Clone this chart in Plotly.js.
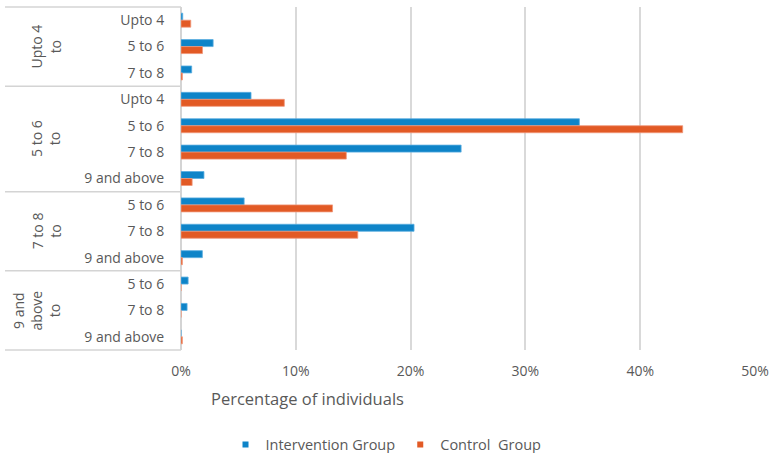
<!DOCTYPE html>
<html>
<head>
<meta charset="utf-8">
<script src="https://cdn.plot.ly/plotly-3.0.1.min.js"></script>
<style>html,body{margin:0;padding:0;background:#fff;}#chart{width:773px;height:453px;}</style>
</head>
<body>
<div id="chart"></div>
<script>
// Data
const groups = ["Upto 4<br>to", "5 to 6<br>to", "7 to 8<br>to", "9 and<br>above<br>to"];
const groupOf = [0,0,0, 1,1,1,1, 2,2,2, 3,3,3];
const inner = ["Upto 4","5 to 6","7 to 8",
               "Upto 4","5 to 6","7 to 8","9 and above",
               "5 to 6","7 to 8","9 and above",
               "5 to 6","7 to 8","9 and above"];
const intervention = [0.15, 2.8, 0.93, 6.1, 34.7, 24.4, 2.0, 5.5, 20.3, 1.86, 0.62, 0.53, 0];
const control      = [0.85, 1.87, 0.12, 9.0, 43.7, 14.4, 0.97, 13.2, 15.4, 0.12, 0, 0, 0.12];
const seriesNames = ["Intervention Group", "Control  Group"];
const xTickVals = [0, 10, 20, 30, 40, 50];
const xTickText = ["0%", "10%", "20%", "30%", "40%", "50%"];

const ids = inner.map((s, i) => "g" + groupOf[i] + "|" + s);
const textColor = "#595959";
const font = "Open Sans, Lato, sans-serif";
const colors = ["#0E84C8", "#E25A25"];

const traces = [
  {type: "bar", orientation: "h", name: seriesNames[0], x: intervention, y: ids, showlegend: false,
   marker: {color: colors[0], line: {color: "#5AADE0", width: 0.8}}, hoverinfo: "x"},
  {type: "bar", orientation: "h", name: seriesNames[1], x: control, y: ids, showlegend: false,
   marker: {color: colors[1], line: {color: "#F0977A", width: 0.8}}, hoverinfo: "x"},
  // legend entries (small square keys as in the reference)
  {type: "scatter", mode: "markers", name: seriesNames[0], x: [null], y: [null],
   marker: {symbol: "square", size: 6, color: colors[0]}},
  {type: "scatter", mode: "markers", name: seriesNames[1], x: [null], y: [null],
   marker: {symbol: "square", size: 6, color: colors[1]}}
];

// layout geometry
const W = 773, H = 453, L = 181, R = 18, T = 7, B = 103;
const pw = W - L - R, ph = H - T - B;
const nCat = inner.length;
const lineColor = "#d4d4d4";

const shapes = [];
const bounds = [0];
for (let i = 1; i < nCat; i++) if (groupOf[i] !== groupOf[i-1]) bounds.push(i);
bounds.push(nCat);
bounds.forEach(k => {
  const y = 1 - k / nCat;
  shapes.push({type: "line", xref: "paper", yref: "paper", x0: (5 - L) / pw, x1: 0, y0: y, y1: y,
               line: {color: lineColor, width: 1.5}});
});

const annotations = [];
const groupShift = [-135, -135, -135, -145];
for (let g = 0; g < groups.length; g++) {
  const first = groupOf.indexOf(g), last = groupOf.lastIndexOf(g) + 1;
  const yc = 1 - (first + last) / 2 / nCat;
  annotations.push({xref: "paper", yref: "paper", x: 0, y: yc, xshift: groupShift[g],
    text: groups[g], showarrow: false, textangle: -90, xanchor: "center", yanchor: "middle",
    font: {family: font, size: 14, color: textColor}});
}
annotations.push({xref: "paper", yref: "paper", x: 0, xshift: 28, y: -(398 - 350) / ph,
  xanchor: "left", yanchor: "middle", showarrow: false, text: "Percentage of individuals",
  font: {family: font, size: 16.5, color: textColor}});

const layout = {
  width: W, height: H,
  margin: {l: L, r: R, t: T, b: B, pad: 0},
  paper_bgcolor: "#fff", plot_bgcolor: "#fff",
  barmode: "group", bargap: 0.47, bargroupgap: 0,
  showlegend: true,
  legend: {orientation: "h", xref: "container", yref: "container", x: 386 / W, xanchor: "center",
           y: 1 - 444.5 / H, yanchor: "middle",
           font: {family: font, size: 14.5, color: textColor}, traceorder: "normal"},
  xaxis: {range: [0, 50], tickvals: xTickVals, ticktext: xTickText, showgrid: true,
          gridcolor: "#d9d9d9", gridwidth: 2, zeroline: true, zerolinecolor: lineColor, zerolinewidth: 2,
          showline: false, ticks: "outside", ticklen: 8, tickcolor: "rgba(0,0,0,0)",
          tickfont: {family: font, size: 14, color: textColor}, fixedrange: true},
  yaxis: {type: "category", autorange: "reversed", tickvals: ids, ticktext: inner,
          showgrid: false, zeroline: false, showline: false,
          ticks: "outside", ticklen: 13, tickcolor: "rgba(0,0,0,0)",
          tickfont: {family: font, size: 14, color: textColor}, fixedrange: true},
  shapes: shapes, annotations: annotations,
  font: {family: font, color: textColor}
};

Plotly.newPlot("chart", traces, layout, {displayModeBar: false, staticPlot: true});
</script>
</body>
</html>
